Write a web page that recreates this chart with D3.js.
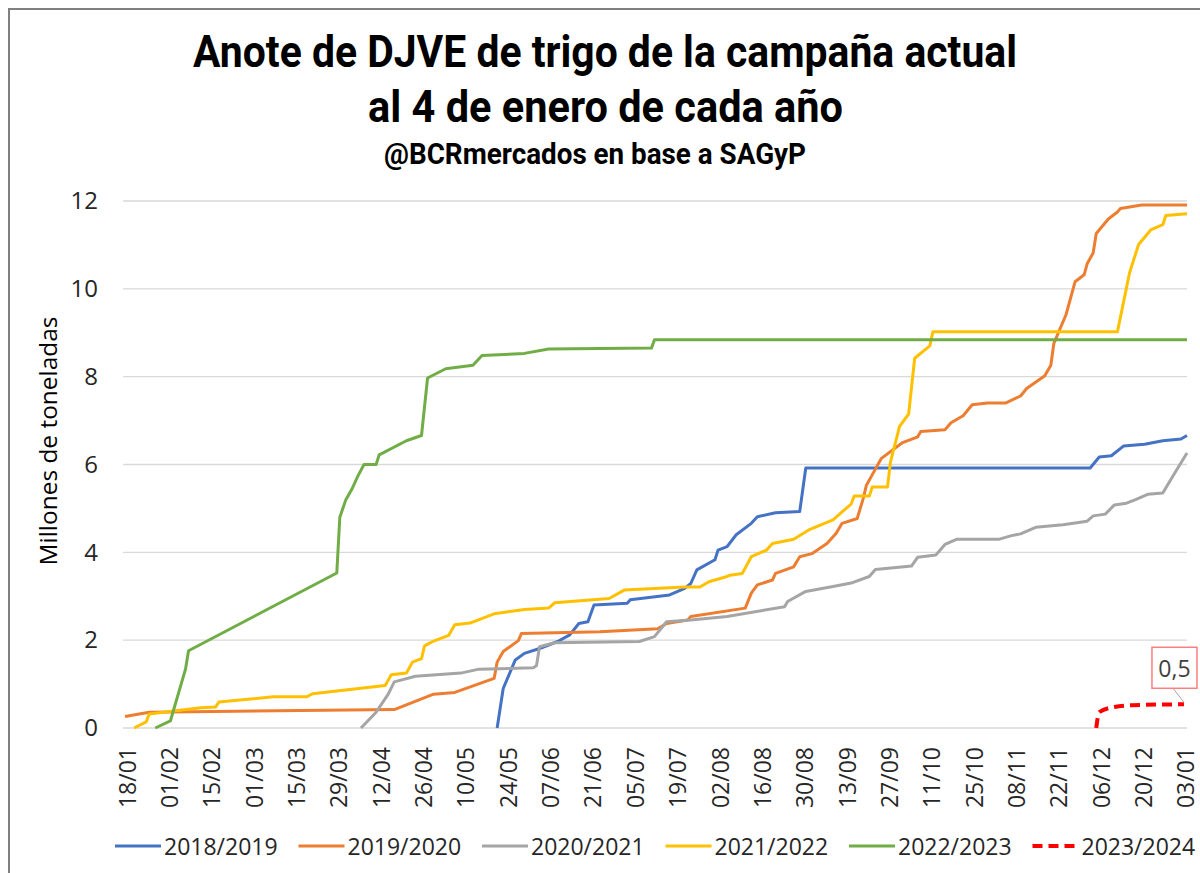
<!DOCTYPE html>
<html>
<head>
<meta charset="utf-8">
<script src="https://cdn.jsdelivr.net/npm/d3@7"></script>
<style>
  body { margin: 0; background: #fff; }
  svg { display: block; }
</style>
</head>
<body>
<svg id="chart" width="1200" height="873"></svg>
<script>
// campaign runs from 18/01 to 04/01 of the next year
var xTicks = ["18/01", "01/02", "15/02", "01/03", "15/03", "29/03", "12/04", "26/04", "10/05", "24/05",
  "07/06", "21/06", "05/07", "19/07", "02/08", "16/08", "30/08", "13/09", "27/09", "11/10",
  "25/10", "08/11", "22/11", "06/12", "20/12", "03/01"];
var yTicks = [0, 2, 4, 6, 8, 10, 12];

var campaigns = ["2018/2019", "2019/2020", "2020/2021", "2021/2022", "2022/2023", "2023/2024"];
var colors = ["#4472C4", "#ED7D31", "#A5A5A5", "#FFC000", "#70AD47", "#FF0000"];

// [fecha, millones de toneladas]
var s2018 = [["21/05", 0], ["23/05", 0.9], ["27/05", 1.55], ["30/05", 1.7], ["04/06", 1.81], ["10/06", 1.97],
  ["14/06", 2.12], ["17/06", 2.38], ["20/06", 2.42], ["22/06", 2.8], ["03/07", 2.84], ["04/07", 2.92],
  ["17/07", 3.03], ["22/07", 3.18], ["24/07", 3.29], ["26/07", 3.6], ["01/08", 3.83], ["02/08", 4.05],
  ["05/08", 4.13], ["08/08", 4.4], ["13/08", 4.66], ["15/08", 4.81], ["21/08", 4.9], ["29/08", 4.93],
  ["31/08", 5.92], ["03/12", 5.92], ["06/12", 6.17], ["10/12", 6.2], ["14/12", 6.42], ["21/12", 6.46],
  ["27/12", 6.54], ["02/01", 6.58], ["04/01", 6.66]];

var s2019 = [["18/01", 0.26], ["26/01", 0.36], ["17/04", 0.42], ["30/04", 0.77], ["07/05", 0.81], ["20/05", 1.13],
  ["21/05", 1.5], ["23/05", 1.74], ["28/05", 1.99], ["29/05", 2.15], ["24/06", 2.19], ["13/07", 2.26],
  ["16/07", 2.38], ["23/07", 2.46], ["24/07", 2.54], ["11/08", 2.73], ["13/08", 3.07], ["15/08", 3.26],
  ["20/08", 3.37], ["21/08", 3.52], ["27/08", 3.67], ["29/08", 3.9], ["02/09", 3.97], ["07/09", 4.2],
  ["10/09", 4.43], ["12/09", 4.66], ["17/09", 4.77], ["19/09", 5.23], ["20/09", 5.52], ["22/09", 5.77],
  ["25/09", 6.14], ["02/10", 6.5], ["07/10", 6.63], ["08/10", 6.75], ["16/10", 6.79], ["18/10", 6.95],
  ["22/10", 7.11], ["25/10", 7.36], ["30/10", 7.4], ["05/11", 7.4], ["10/11", 7.56], ["12/11", 7.73],
  ["18/11", 8.02], ["20/11", 8.26], ["21/11", 8.76], ["25/11", 9.41], ["28/11", 10.16], ["01/12", 10.32],
  ["02/12", 10.57], ["04/12", 10.82], ["05/12", 11.26], ["09/12", 11.59], ["12/12", 11.75], ["13/12", 11.83],
  ["20/12", 11.91], ["04/01", 11.91]];

var s2020 = [["06/04", 0], ["11/04", 0.36], ["15/04", 0.77], ["17/04", 1.05], ["24/04", 1.18], ["09/05", 1.25],
  ["15/05", 1.34], ["02/06", 1.37], ["03/06", 1.42], ["04/06", 1.85], ["09/06", 1.94], ["07/07", 1.97],
  ["12/07", 2.08], ["16/07", 2.42], ["24/07", 2.46], ["05/08", 2.54], ["24/08", 2.76], ["25/08", 2.88],
  ["31/08", 3.11], ["09/09", 3.22], ["15/09", 3.3], ["21/09", 3.45], ["23/09", 3.61], ["05/10", 3.69],
  ["07/10", 3.89], ["13/10", 3.94], ["16/10", 4.18], ["20/10", 4.3], ["03/11", 4.3], ["07/11", 4.38],
  ["10/11", 4.42], ["15/11", 4.57], ["24/11", 4.63], ["02/12", 4.71], ["04/12", 4.83], ["08/12", 4.87],
  ["11/12", 5.08], ["15/12", 5.12], ["18/12", 5.2], ["22/12", 5.32], ["27/12", 5.35], ["31/12", 5.81],
  ["04/01", 6.26]];

var s2021 = [["21/01", 0], ["25/01", 0.14], ["26/01", 0.32], ["12/02", 0.46], ["17/02", 0.48], ["18/02", 0.59],
  ["08/03", 0.71], ["19/03", 0.71], ["21/03", 0.78], ["14/04", 0.97], ["16/04", 1.21], ["21/04", 1.25],
  ["23/04", 1.5], ["26/04", 1.58], ["27/04", 1.87], ["30/04", 1.98], ["05/05", 2.11], ["07/05", 2.35],
  ["12/05", 2.39], ["20/05", 2.6], ["30/05", 2.7], ["07/06", 2.73], ["09/06", 2.85], ["27/06", 2.95],
  ["02/07", 3.14], ["22/07", 3.21], ["27/07", 3.21], ["30/07", 3.33], ["05/08", 3.45], ["06/08", 3.48],
  ["10/08", 3.52], ["13/08", 3.9], ["18/08", 4.05], ["20/08", 4.2], ["27/08", 4.3], ["01/09", 4.51],
  ["09/09", 4.74], ["15/09", 5.1], ["16/09", 5.28], ["21/09", 5.28], ["22/09", 5.49], ["27/09", 5.49],
  ["28/09", 6.06], ["01/10", 6.87], ["04/10", 7.15], ["06/10", 8.42], ["11/10", 8.7], ["12/10", 9.02],
  ["12/12", 9.02], ["16/12", 10.36], ["19/12", 11.01], ["23/12", 11.34], ["27/12", 11.46], ["28/12", 11.67],
  ["04/01", 11.71]];

var s2022 = [["28/01", 0], ["02/02", 0.16], ["07/02", 1.34], ["08/02", 1.76], ["29/03", 3.53], ["30/03", 4.8],
  ["01/04", 5.2], ["03/04", 5.44], ["05/04", 5.74], ["07/04", 6.0], ["11/04", 6.0], ["12/04", 6.22],
  ["21/04", 6.54], ["26/04", 6.66], ["28/04", 7.97], ["04/05", 8.18], ["13/05", 8.26], ["16/05", 8.48],
  ["30/05", 8.53], ["07/06", 8.63], ["11/07", 8.65], ["12/07", 8.84], ["04/01", 8.84]];

var s2023 = [["05/12", 0], ["06/12", 0.36], ["11/12", 0.48], ["17/12", 0.52], ["03/01", 0.54]];

var seriesData = [s2018, s2019, s2020, s2021, s2022, s2023];

var svg = d3.select("#chart");
var fontTicks = "'Open Sans', 'Noto Sans', sans-serif";

// dd/mm -> date inside the campaign (january before the 18th is next year)
function parseDay(s) {
  var p = s.split("/");
  var day = +p[0], month = +p[1];
  var year = (month == 1 && day < 18) ? 2024 : 2023;
  return new Date(year, month - 1, day);
}

var x = d3.scaleTime()
  .domain([parseDay("18/01"), parseDay("04/01")])
  .range([125, 1187]);

var y = d3.scaleLinear()
  .domain([0, 12])
  .range([728, 201]);

// frame
svg.append("path")
  .attr("d", "M9,873 L9,9 L1200,9")
  .attr("fill", "none")
  .attr("stroke", "#7f7f7f")
  .attr("stroke-width", 2);

// titles
var titles = [
  {text: "Anote de DJVE de trigo de la campaña actual", x: 605, y: 67, size: 44, len: 824},
  {text: "al 4 de enero de cada año", x: 605.5, y: 122, size: 44, len: 475},
  {text: "@BCRmercados en base a SAGyP", x: 595, y: 164, size: 30, len: 422}
];
svg.selectAll(".title")
  .data(titles)
  .enter().append("text")
  .attr("class", "title")
  .attr("x", function(d) { return d.x; })
  .attr("y", function(d) { return d.y; })
  .attr("text-anchor", "middle")
  .attr("font-family", "Roboto, 'Liberation Sans', sans-serif")
  .attr("font-weight", "bold")
  .attr("font-size", function(d) { return d.size; })
  .attr("textLength", function(d) { return d.len; })
  .attr("lengthAdjust", "spacingAndGlyphs")
  .attr("fill", "#000")
  .text(function(d) { return d.text; });

// gridlines
svg.append("g")
  .selectAll("line")
  .data(yTicks)
  .enter().append("line")
  .attr("x1", 123)
  .attr("x2", 1187)
  .attr("y1", function(d) { return y(d); })
  .attr("y2", function(d) { return y(d); })
  .attr("stroke", "#d9d9d9")
  .attr("stroke-width", 1.3);

// y axis
var yAxis = d3.axisLeft(y)
  .tickValues(yTicks)
  .tickSize(0)
  .tickPadding(0);

var gY = svg.append("g")
  .attr("transform", "translate(98,0)")
  .call(yAxis);
gY.select(".domain").remove();
gY.selectAll("text")
  .attr("font-family", fontTicks)
  .attr("font-size", 24)
  .attr("fill", "#262626");

svg.append("text")
  .attr("transform", "translate(47,441) rotate(-90)")
  .attr("text-anchor", "middle")
  .attr("dominant-baseline", "central")
  .attr("font-family", fontTicks)
  .attr("font-size", 24)
  .attr("textLength", 249)
  .attr("lengthAdjust", "spacingAndGlyphs")
  .attr("fill", "#000")
  .text("Millones de toneladas");

// x axis
var xAxis = d3.axisBottom(x)
  .tickValues(xTicks.map(parseDay))
  .tickSize(0)
  .tickFormat(d3.timeFormat("%d/%m"));

var gX = svg.append("g")
  .attr("transform", "translate(0,728)")
  .call(xAxis);
gX.select(".domain").remove();
gX.selectAll("text")
  .attr("font-family", fontTicks)
  .attr("font-size", 23)
  .attr("fill", "#262626")
  .attr("text-anchor", "end")
  .attr("dominant-baseline", "central")
  .attr("dy", null)
  .attr("y", 0)
  .attr("transform", "translate(1,19) rotate(-90)");

// lines: straight segments, the current campaign slightly smoothed
var line = d3.line()
  .x(function(d) { return x(parseDay(d[0])); })
  .y(function(d) { return y(d[1]); });

svg.append("g")
  .selectAll("path")
  .data(seriesData)
  .enter().append("path")
  .attr("d", function(d, i) { return line.curve(i == 5 ? d3.curveMonotoneX : d3.curveLinear)(d); })
  .attr("fill", "none")
  .attr("stroke", function(d, i) { return colors[i]; })
  .attr("stroke-width", function(d, i) { return i == 5 ? 4 : 3; })
  .attr("stroke-dasharray", function(d, i) { return i == 5 ? "10,6" : null; })
  .attr("stroke-linejoin", "round");

// data label on last point of current campaign
var last = s2023[s2023.length - 1];
var lx = x(parseDay(last[0])), ly = y(last[1]);
var label = d3.format(".1f")(last[1]).replace(".", ",");

svg.append("line")
  .attr("x1", lx)
  .attr("y1", ly - 2)
  .attr("x2", lx - 11)
  .attr("y2", ly - 16)
  .attr("stroke", "#a5a5a5")
  .attr("stroke-width", 1);

svg.append("rect")
  .attr("x", lx - 32)
  .attr("y", ly - 57)
  .attr("width", 45)
  .attr("height", 41)
  .attr("fill", "#fff")
  .attr("stroke", "#ff7c80")
  .attr("stroke-width", 1.5);

svg.append("text")
  .attr("x", lx - 9.5)
  .attr("y", ly - 36)
  .attr("text-anchor", "middle")
  .attr("dominant-baseline", "central")
  .attr("font-family", fontTicks)
  .attr("font-size", 23)
  .attr("fill", "#404040")
  .text(label);

// legend
var legend = svg.append("g")
  .selectAll("g")
  .data(campaigns)
  .enter().append("g")
  .attr("transform", function(d, i) { return "translate(" + (115 + i * 183.5) + ",846)"; });

legend.append("line")
  .attr("x1", 0)
  .attr("x2", 46)
  .attr("stroke", function(d, i) { return colors[i]; })
  .attr("stroke-width", function(d, i) { return i == 5 ? 4 : 3; })
  .attr("stroke-dasharray", function(d, i) { return i == 5 ? "10,6" : null; });

legend.append("text")
  .attr("x", 49)
  .attr("dominant-baseline", "central")
  .attr("font-family", fontTicks)
  .attr("font-size", 23)
  .attr("fill", "#262626")
  .text(function(d) { return d; });
</script>
</body>
</html>
